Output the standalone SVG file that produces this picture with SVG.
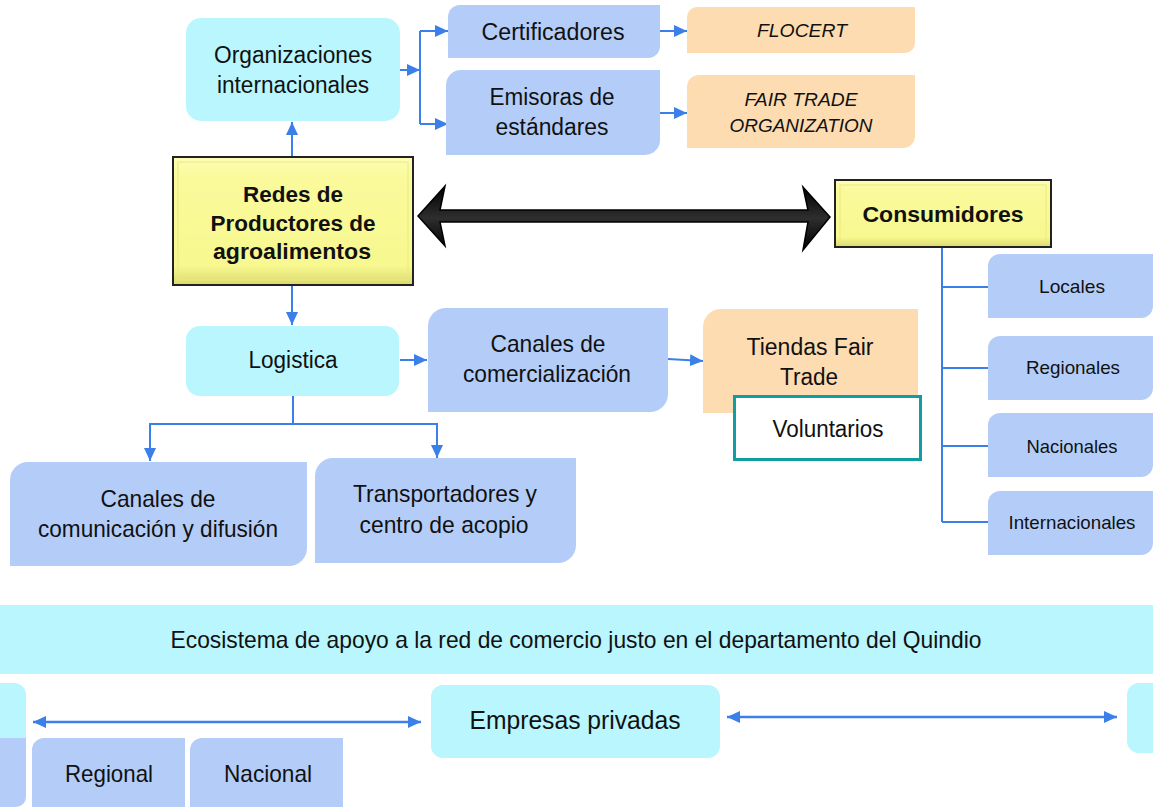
<svg xmlns="http://www.w3.org/2000/svg" width="1153" height="807" viewBox="0 0 1153 807">
<style>
  text{font-family:"Liberation Sans",Arial,sans-serif;fill:#111;text-anchor:middle}
  .t23{font-size:23px}
  .t24{font-size:24px}
  .t19i{font-size:19px;font-style:italic}
  .t18{font-size:18.5px}
  .b{font-size:22.5px;font-weight:bold}
  .cyan{fill:#b9f6fd}
  .blue{fill:#b4cdf8}
  .orange{fill:#fddcb1}
  .ln{fill:none;stroke:#3b7fe9;stroke-width:2}
  .ln2{fill:none;stroke:#3b7fe9;stroke-width:2.5}
</style>
<defs>
  <marker id="ah" markerUnits="userSpaceOnUse" markerWidth="13" markerHeight="12" refX="13" refY="6" orient="auto">
    <path d="M0,0 L13,6 L0,12 Z" fill="#3b7fe9"/>
  </marker>
  <marker id="ahs" markerUnits="userSpaceOnUse" markerWidth="13" markerHeight="12" refX="13" refY="6" orient="auto-start-reverse">
    <path d="M0,0 L13,6 L0,12 Z" fill="#3b7fe9"/>
  </marker>
  <linearGradient id="shaft" x1="0" y1="0" x2="0" y2="1">
    <stop offset="0" stop-color="#000"/>
    <stop offset="0.5" stop-color="#2e2e2e"/>
    <stop offset="1" stop-color="#000"/>
  </linearGradient>
  <linearGradient id="yel" x1="0" y1="0" x2="0" y2="1">
    <stop offset="0" stop-color="#fdfdb8"/>
    <stop offset="0.15" stop-color="#fafa9c"/>
    <stop offset="0.85" stop-color="#f8f890"/>
    <stop offset="1" stop-color="#d9d96e"/>
  </linearGradient>
</defs>

<g id="connectors">
  <path class="ln" d="M292,157 V122" marker-end="url(#ah)"/>
  <path class="ln" d="M400,70 H420" marker-end="url(#ah)"/>
  <path class="ln" d="M420,31 V124"/>
  <path class="ln" d="M420,31 H448" marker-end="url(#ah)"/>
  <path class="ln" d="M420,124 H448" marker-end="url(#ah)"/>
  <path class="ln" d="M660,31 H687" marker-end="url(#ah)"/>
  <path class="ln" d="M660,113 H687" marker-end="url(#ah)"/>
  <path class="ln" d="M292,285 V325" marker-end="url(#ah)"/>
  <path class="ln" d="M400,360 H427" marker-end="url(#ah)"/>
  <path class="ln" d="M668,359 L703,361" marker-end="url(#ah)"/>
  <path class="ln" d="M293,396 V424 M150,424 H437"/>
  <path class="ln" d="M150,423 V461" marker-end="url(#ah)"/>
  <path class="ln" d="M437,423 V458" marker-end="url(#ah)"/>
  <path class="ln" d="M942,247 V522 M942,287 H988 M942,368 H988 M942,446 H988 M942,522 H988"/>
  <path class="ln2" d="M33,722 H421" marker-start="url(#ahs)" marker-end="url(#ahs)"/>
  <path class="ln2" d="M727,717 H1117" marker-start="url(#ahs)" marker-end="url(#ahs)"/>
  <path d="M418,216 L445,186 L440,210 L808,210 L803,187 L830,217 L803,250 L808,222 L440,222 L445,246 Z" fill="url(#shaft)" stroke="#000" stroke-width="1.5"/>
</g>

<g id="org-int">
  <rect class="cyan" x="186" y="18" width="214" height="103" rx="15"/>
  <text class="t23" x="293" y="63" textLength="158" lengthAdjust="spacingAndGlyphs">Organizaciones</text>
  <text class="t23" x="293" y="93" textLength="152" lengthAdjust="spacingAndGlyphs">internacionales</text>
</g>
<g id="certificadores">
  <path class="blue" d="M460,5 H660 V46 A12,12 0 0 1 648,58 H448 V17 A12,12 0 0 1 460,5 Z"/>
  <text class="t23" x="553" y="40" textLength="143" lengthAdjust="spacingAndGlyphs">Certificadores</text>
</g>
<g id="emisoras">
  <path class="blue" d="M461,70 H660 V140 A15,15 0 0 1 645,155 H446 V85 A15,15 0 0 1 461,70 Z"/>
  <text class="t23" x="552" y="105" textLength="125" lengthAdjust="spacingAndGlyphs">Emisoras de</text>
  <text class="t23" x="552" y="135" textLength="113" lengthAdjust="spacingAndGlyphs">estándares</text>
</g>
<g id="flocert">
  <path class="orange" d="M697,7 H915 V43 A10,10 0 0 1 905,53 H687 V17 A10,10 0 0 1 697,7 Z"/>
  <text class="t19i" x="802" y="37" textLength="90" lengthAdjust="spacingAndGlyphs">FLOCERT</text>
</g>
<g id="fairtrade-org">
  <path class="orange" d="M699,75 H915 V136 A12,12 0 0 1 903,148 H687 V87 A12,12 0 0 1 699,75 Z"/>
  <text class="t19i" x="801" y="106" textLength="113" lengthAdjust="spacingAndGlyphs">FAIR TRADE</text>
  <text class="t19i" x="801" y="132" textLength="143" lengthAdjust="spacingAndGlyphs">ORGANIZATION</text>
</g>
<g id="redes">
  <rect x="173" y="157" width="240" height="128" fill="url(#yel)" stroke="#222" stroke-width="2"/>
  <rect x="178" y="162" width="230" height="118" fill="none" stroke="#eaea80" stroke-width="1"/>
  <text class="b" x="293" y="202" textLength="100" lengthAdjust="spacingAndGlyphs">Redes de</text>
  <text class="b" x="293" y="231" textLength="165" lengthAdjust="spacingAndGlyphs">Productores de</text>
  <text class="b" x="292" y="259" textLength="158" lengthAdjust="spacingAndGlyphs">agroalimentos</text>
</g>
<g id="consumidores">
  <rect x="835" y="180" width="216" height="67" fill="url(#yel)" stroke="#222" stroke-width="2"/>
  <rect x="840" y="185" width="206" height="57" fill="none" stroke="#eaea80" stroke-width="1"/>
  <text class="b" x="943" y="222" textLength="161" lengthAdjust="spacingAndGlyphs">Consumidores</text>
</g>
<g id="locales">
  <path class="blue" d="M1000,254 H1153 V306 A12,12 0 0 1 1141,318 H988 V266 A12,12 0 0 1 1000,254 Z"/>
  <text class="t18" x="1072" y="293" textLength="66" lengthAdjust="spacingAndGlyphs">Locales</text>
</g>
<g id="regionales">
  <path class="blue" d="M1000,336 H1153 V388 A12,12 0 0 1 1141,400 H988 V348 A12,12 0 0 1 1000,336 Z"/>
  <text class="t18" x="1073" y="374" textLength="94" lengthAdjust="spacingAndGlyphs">Regionales</text>
</g>
<g id="nacionales">
  <path class="blue" d="M1000,413 H1153 V465 A12,12 0 0 1 1141,477 H988 V425 A12,12 0 0 1 1000,413 Z"/>
  <text class="t18" x="1072" y="453" textLength="91" lengthAdjust="spacingAndGlyphs">Nacionales</text>
</g>
<g id="internacionales">
  <path class="blue" d="M1000,491 H1153 V543 A12,12 0 0 1 1141,555 H988 V503 A12,12 0 0 1 1000,491 Z"/>
  <text class="t18" x="1072" y="529" textLength="127" lengthAdjust="spacingAndGlyphs">Internacionales</text>
</g>
<g id="logistica">
  <rect class="cyan" x="186" y="326" width="213" height="70" rx="14"/>
  <text class="t23" x="293" y="368" textLength="89" lengthAdjust="spacingAndGlyphs">Logistica</text>
</g>
<g id="canales-comercializacion">
  <path class="blue" d="M446,308 H668 V394 A18,18 0 0 1 650,412 H428 V326 A18,18 0 0 1 446,308 Z"/>
  <text class="t24" x="548" y="352" textLength="115" lengthAdjust="spacingAndGlyphs">Canales de</text>
  <text class="t24" x="547" y="382" textLength="168" lengthAdjust="spacingAndGlyphs">comercialización</text>
</g>
<g id="tiendas">
  <path class="orange" d="M721,309 H918 V413 H703 V327 A18,18 0 0 1 721,309 Z"/>
  <text class="t23" x="810" y="355" textLength="127" lengthAdjust="spacingAndGlyphs">Tiendas Fair</text>
  <text class="t23" x="809" y="385" textLength="58" lengthAdjust="spacingAndGlyphs">Trade</text>
</g>
<g id="voluntarios">
  <rect x="734.5" y="396.5" width="186" height="63" fill="#fff" stroke="#119ea3" stroke-width="3"/>
  <text class="t23" x="828" y="437" textLength="111" lengthAdjust="spacingAndGlyphs">Voluntarios</text>
</g>
<g id="canales-comunicacion">
  <path class="blue" d="M28,462 H307 V548 A18,18 0 0 1 289,566 H10 V480 A18,18 0 0 1 28,462 Z"/>
  <text class="t24" x="158" y="507" textLength="115" lengthAdjust="spacingAndGlyphs">Canales de</text>
  <text class="t24" x="158" y="537" textLength="240" lengthAdjust="spacingAndGlyphs">comunicación y difusión</text>
</g>
<g id="transportadores">
  <path class="blue" d="M333,458 H576 V545 A18,18 0 0 1 558,563 H315 V476 A18,18 0 0 1 333,458 Z"/>
  <text class="t24" x="445" y="502" textLength="184" lengthAdjust="spacingAndGlyphs">Transportadores y</text>
  <text class="t24" x="444" y="533" textLength="169" lengthAdjust="spacingAndGlyphs">centro de acopio</text>
</g>
<g id="ecosistema">
  <rect class="cyan" x="0" y="605" width="1153" height="69"/>
  <text class="t24" x="576" y="648" textLength="811" lengthAdjust="spacingAndGlyphs">Ecosistema de apoyo a la red de comercio justo en el departamento del Quindio</text>
</g>
<g id="left-partial">
  <path class="cyan" d="M0,683 H14 A12,12 0 0 1 26,695 V738 H0 Z"/>
  <path class="blue" d="M0,738 H26 V797 A10,10 0 0 1 16,807 H0 Z"/>
</g>
<g id="empresas">
  <rect class="cyan" x="431" y="685" width="289" height="73" rx="12"/>
  <text style="font-size:25px" x="575" y="729" textLength="211" lengthAdjust="spacingAndGlyphs">Empresas privadas</text>
</g>
<g id="right-partial">
  <path class="cyan" d="M1153,683 H1139 A12,12 0 0 0 1127,695 V741 A12,12 0 0 0 1139,753 H1153 Z"/>
</g>
<g id="regional">
  <path class="blue" d="M44,738 H185 V807 H32 V750 A12,12 0 0 1 44,738 Z"/>
  <text class="t24" x="109" y="782" textLength="88" lengthAdjust="spacingAndGlyphs">Regional</text>
</g>
<g id="nacional">
  <path class="blue" d="M202,738 H343 V807 H190 V750 A12,12 0 0 1 202,738 Z"/>
  <text class="t24" x="268" y="782" textLength="88" lengthAdjust="spacingAndGlyphs">Nacional</text>
</g>
</svg>
